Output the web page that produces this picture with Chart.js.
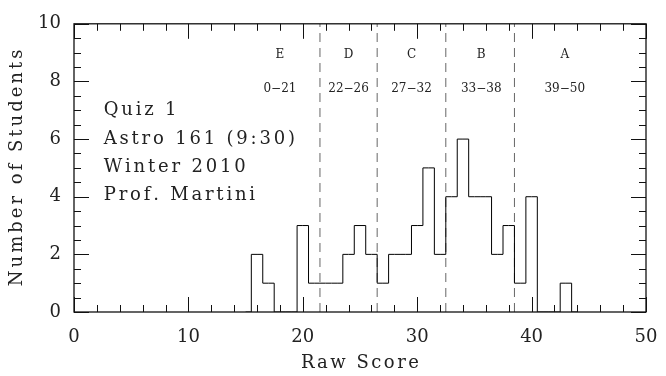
<!DOCTYPE html>
<html>
<head>
<meta charset="utf-8">
<script src="https://cdn.jsdelivr.net/npm/chart.js@4/dist/chart.umd.min.js"></script>
<style>
  html, body { margin: 0; padding: 0; background: #fff; }
  #wrap { width: 666px; height: 376px; }
</style>
</head>
<body>
<div id="wrap"><canvas id="hist"></canvas></div>
<script>
// histogram bins (integer scores) and number of students in each
const scores = [15, 16, 17, 18, 19, 20, 21, 22, 23, 24, 25, 26, 27, 28, 29,
                30, 31, 32, 33, 34, 35, 36, 37, 38, 39, 40, 41, 42, 43, 44];
const counts = [0, 2, 1, 0, 0, 3, 1, 1, 1, 2, 3, 2, 1, 2, 2,
                3, 5, 2, 4, 6, 4, 4, 2, 3, 1, 4, 0, 0, 1, 0];

// grade cutoffs (dashed lines) and labels
const cutoffs = [21.5, 26.5, 32.5, 38.5];
const grades = ["E", "D", "C", "B", "A"];
const ranges = ["0\u221221", "22\u221226", "27\u221232", "33\u221238", "39\u221250"];

const infoLines = ["Quiz 1", "Astro 161 (9:30)", "Winter 2010", "Prof. Martini"];

const xTicks = [0, 10, 20, 30, 40, 50];
const yTicks = [0, 2, 4, 6, 8, 10];

const FONT = "'DejaVu Serif', serif";
const INK = "#222";

// draw text one glyph at a time with extra tracking (wide plotter-style lettering)
function spacedText(ctx, text, x, y, gap, align) {
  const chars = Array.from(text);
  const widths = chars.map((c) => ctx.measureText(c).width);
  const total = widths.reduce((s, w) => s + w, 0) + gap * (chars.length - 1);
  let cx = align === "center" ? x - total / 2 : x;
  ctx.textAlign = "left";
  chars.forEach((c, i) => {
    ctx.fillText(c, cx, y);
    cx += widths[i] + gap;
  });
}

document.addEventListener("DOMContentLoaded", function () {
  var histData = scores.map((s, i) => ({ x: s, y: counts[i] }));

  var datasets = [
    {
      label: "Students",
      data: histData,
      stepped: "middle",
      borderColor: "#000",
      borderWidth: 1,
      pointRadius: 0,
      fill: false,
    },
  ];
  cutoffs.forEach((c) => {
    datasets.push({
      label: "cut " + c,
      data: [{ x: c, y: yTicks[0] }, { x: c, y: yTicks[yTicks.length - 1] }],
      borderColor: "#666",
      borderWidth: 1,
      borderDash: [9, 6],
      pointRadius: 0,
      fill: false,
    });
  });

  // frame, inward ticks, axis titles and the text annotations
  const decor = {
    id: "decor",
    afterDraw(chart) {
      const ctx = chart.ctx;
      const a = chart.chartArea;
      const xs = chart.scales.x;
      const ys = chart.scales.y;
      ctx.save();
      ctx.strokeStyle = "#111";
      ctx.lineWidth = 1.3;
      ctx.strokeRect(a.left, a.top, a.right - a.left, a.bottom - a.top);

      ctx.lineWidth = 1;
      ctx.beginPath();
      // x ticks: minor every 2, major every 10
      for (let v = 0; v <= 50; v += 2) {
        const px = Math.round(xs.getPixelForValue(v)) + 0.5;
        const len = v % 10 === 0 ? 15 : 7;
        ctx.moveTo(px, a.bottom);
        ctx.lineTo(px, a.bottom - len);
        ctx.moveTo(px, a.top);
        ctx.lineTo(px, a.top + len);
      }
      // y ticks: minor every 0.5, major every 2
      for (let v = 0; v <= 10; v += 0.5) {
        const py = Math.round(ys.getPixelForValue(v)) + 0.5;
        const len = v % 2 === 0 ? 15 : 7;
        ctx.moveTo(a.left, py);
        ctx.lineTo(a.left + len, py);
        ctx.moveTo(a.right, py);
        ctx.lineTo(a.right - len, py);
      }
      ctx.stroke();

      // grade letters and score ranges
      const gradeX = [18, 24, 29.5, 35.6, 42.9];
      ctx.fillStyle = INK;
      ctx.textAlign = "center";
      ctx.textBaseline = "alphabetic";
      ctx.font = "12px " + FONT;
      grades.forEach((g, i) => {
        const px = xs.getPixelForValue(gradeX[i]);
        ctx.fillText(g, px, ys.getPixelForValue(8.8));
        ctx.fillText(ranges[i], px, ys.getPixelForValue(7.63));
      });

      // info block
      ctx.font = "18px " + FONT;
      infoLines.forEach((t, i) => {
        spacedText(ctx, t, xs.getPixelForValue(2.6), ys.getPixelForValue(6.83 - i * 0.985), 2.8, "left");
      });

      // axis titles
      spacedText(ctx, "Raw Score", (a.left + a.right) / 2, 368, 2.5, "center");
      ctx.translate(22, (a.top + a.bottom) / 2);
      ctx.rotate(-Math.PI / 2);
      spacedText(ctx, "Number of Students", 0, 0, 3, "center");
      ctx.restore();
    },
  };

  var ctx = document.getElementById("hist").getContext("2d");
  new Chart(ctx, {
    type: "line",
    data: { datasets: datasets },
    options: {
      responsive: true,
      maintainAspectRatio: false,
      animation: false,
      layout: { padding: { left: 0, right: 20, top: 13, bottom: 0 } },
      scales: {
        x: {
          type: "linear",
          min: 0,
          max: 50,
          afterFit: function (scale) {
            scale.height = 64;
            scale.paddingLeft = 0;
            scale.paddingRight = 0;
          },
          afterBuildTicks: function (scale) { scale.ticks = xTicks.map((v) => ({ value: v })); },
          grid: { display: false, drawTicks: false },
          border: { display: false },
          ticks: { padding: 15, color: INK, font: { family: FONT, size: 18 } },
        },
        y: {
          min: 0,
          max: 10,
          afterFit: function (scale) { scale.width = 74; },
          afterBuildTicks: function (scale) { scale.ticks = yTicks.map((v) => ({ value: v })); },
          grid: { display: false, drawTicks: false },
          border: { display: false },
          ticks: { padding: 13, color: INK, font: { family: FONT, size: 18 } },
        },
      },
      plugins: {
        legend: { display: false },
        tooltip: { enabled: false },
      },
    },
    plugins: [decor],
  });
});
</script>
</body>
</html>
